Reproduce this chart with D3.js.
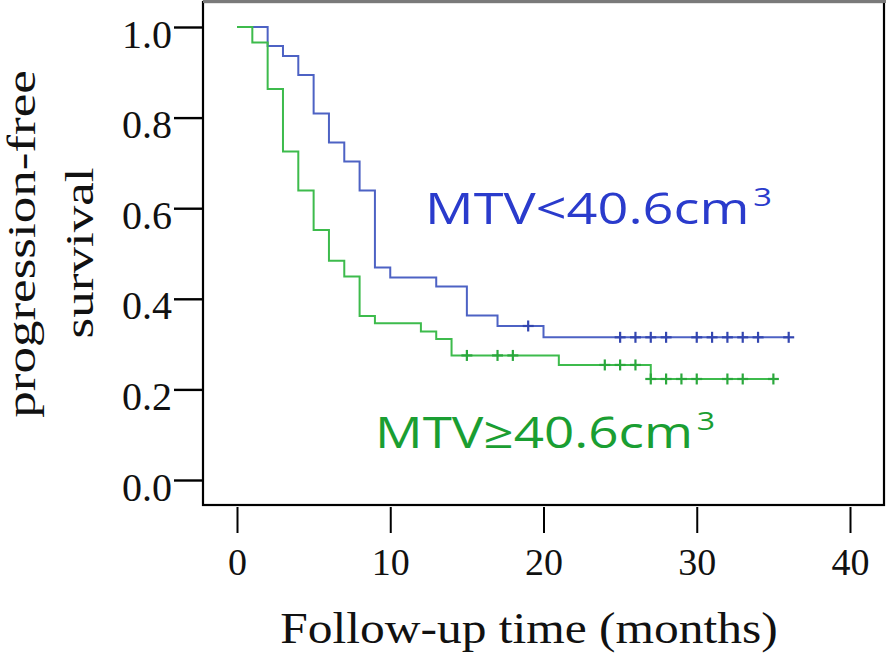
<!DOCTYPE html>
<html><head><meta charset="utf-8">
<script src="https://cdn.jsdelivr.net/npm/d3@7"></script>
<style>html,body{margin:0;padding:0;background:#fff;}svg{display:block;}</style>
</head><body>
<svg id="c" width="886" height="659"></svg>
<script>
// ---- data ----
const blueTimes = [0, 2, 3, 4, 5, 6, 7, 8, 9, 10, 13, 15, 17, 20];
const blueSurv  = [1, 0.958, 0.936, 0.894, 0.809, 0.745, 0.703, 0.639, 0.469, 0.447, 0.427, 0.363, 0.340, 0.315];
const blueEnd = 36;
const blueCensor = [19, 25, 26, 27, 28, 30, 31, 32, 33, 34, 36];

const greenTimes = [0, 1, 2, 3, 4, 5, 6, 7, 8, 9, 12, 13, 14, 21, 27];
const greenSurv  = [1, 0.966, 0.863, 0.725, 0.639, 0.552, 0.484, 0.449, 0.362, 0.346, 0.328, 0.311, 0.275, 0.254, 0.223];
const greenEnd = 35;
const greenCensor = [15, 17, 18, 24, 25, 26, 27, 28, 29, 30, 32, 33, 35];

const xTicks = [0, 10, 20, 30, 40];
const yTicks = [0, 0.2, 0.4, 0.6, 0.8, 1.0];
const xTitle = "Follow-up time (months)";
const yTitle = ["progression-free", "survival"];
const blueLabel = ["MTV<40.6cm", "3"];
const greenLabel = ["MTV\u226540.6cm", "3"];

// ---- drawing ----
const svg = d3.select("#c");
const x = d3.scaleLinear().domain([0, 40]).range([237, 850]);
const y = d3.scaleLinear().domain([0, 1]).range([480, 27]);
const serif = "'Liberation Serif','Times New Roman',serif";

// frame
svg.append("rect").attr("x", 203).attr("y", 2).attr("width", 681).attr("height", 503)
  .attr("fill", "none").attr("stroke", "#000").attr("stroke-width", 2.2);
svg.append("line").attr("x1", 203).attr("x2", 886).attr("y1", 1.5).attr("y2", 1.5)
  .attr("stroke", "#7a7a7a").attr("stroke-width", 3);

// y axis
const gy = svg.append("g").attr("transform", "translate(203,0)")
  .call(d3.axisLeft(y).tickValues(yTicks).tickFormat(d3.format(".1f")).tickSize(29).tickPadding(2));
gy.select(".domain").remove();
gy.selectAll(".tick line").attr("stroke", "#000").attr("stroke-width", 2.4);
gy.selectAll(".tick text").attr("font-family", serif).attr("font-size", 40).attr("fill", "#111")
  .attr("x", -31).attr("dy", null).attr("y", 20);

// x axis
const gx = svg.append("g").attr("transform", "translate(0,507)")
  .call(d3.axisBottom(x).tickValues(xTicks).tickFormat(d3.format("d")).tickSize(26));
gx.select(".domain").remove();
gx.selectAll(".tick line").attr("stroke", "#000").attr("stroke-width", 2);
gx.selectAll(".tick text").attr("font-family", serif).attr("font-size", 38).attr("fill", "#111")
  .attr("y", 68).attr("dy", null);

// titles
svg.append("text").attr("transform", "translate(529,643) scale(1.1,1)")
  .attr("text-anchor", "middle").attr("font-family", serif).attr("font-size", 45).attr("fill", "#111")
  .text(xTitle);
const yTitlePos = [[35, 244], [93, 253]];
yTitle.forEach((t, i) => {
  svg.append("text").attr("transform", `translate(${yTitlePos[i][0]},${yTitlePos[i][1]}) rotate(-90) scale(1.36,1)`)
    .attr("text-anchor", "middle").attr("font-family", serif).attr("font-size", 39).attr("fill", "#111")
    .text(t);
});

// curves
function drawKM(times, surv, end, censor, lineColor, markColor) {
  const pts = times.map((t, i) => [t, surv[i]]);
  pts.push([end, surv[surv.length - 1]]);
  const line = d3.line().x(d => x(d[0])).y(d => y(d[1])).curve(d3.curveStepAfter);
  svg.append("path").datum(pts).attr("d", line).attr("fill", "none")
    .attr("stroke", lineColor).attr("stroke-width", 2);
  const sAt = t => { let v = surv[0]; times.forEach((tt, i) => { if (tt <= t) v = surv[i]; }); return v; };
  const g = svg.append("g").attr("stroke", markColor).attr("stroke-width", 2.2);
  censor.forEach(t => {
    const cx = x(t), cy = y(sAt(t));
    g.append("line").attr("x1", cx - 5.5).attr("x2", cx + 5.5).attr("y1", cy).attr("y2", cy);
    g.append("line").attr("x1", cx).attr("x2", cx).attr("y1", cy - 5.5).attr("y2", cy + 5.5);
  });
}
drawKM(blueTimes, blueSurv, blueEnd, blueCensor, "#4d62c4", "#3346b0");
drawKM(greenTimes, greenSurv, greenEnd, greenCensor, "#3dbb4c", "#2aa83c");

// group labels
function label(parts, x0, baseline, targetW, color) {
  const t = svg.append("text").attr("font-family", "'Open Sans',sans-serif").attr("font-size", 43)
    .attr("fill", color);
  t.append("tspan").text(parts[0]);
  t.append("tspan").attr("font-size", 26).attr("dy", -18).attr("dx", 3).text(parts[1]);
  const w = t.node().getBBox().width;
  t.attr("transform", `translate(${x0},${baseline}) scale(${targetW / w},1)`);
}
label(blueLabel, 425, 224, 347, "#2a3bcc");
label(greenLabel, 375, 448, 340, "#1a9e32");
</script>
</body></html>
